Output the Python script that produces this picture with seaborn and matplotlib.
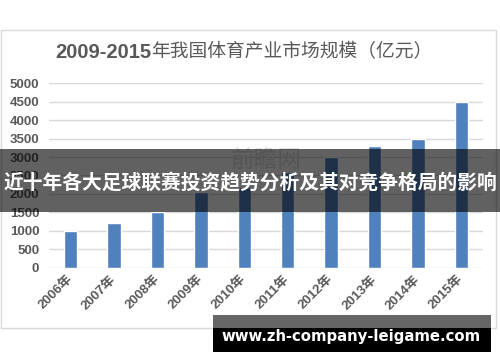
import matplotlib
matplotlib.use("Agg")
import matplotlib.pyplot as plt
import seaborn as sns
import pandas as pd
from matplotlib.patches import Rectangle

years = ["2006年", "2007年", "2008年", "2009年", "2010年",
         "2011年", "2012年", "2013年", "2014年", "2015年"]
values = [1000, 1200, 1500, 2050, 2200, 2600, 3000, 3300, 3500, 4500]
yticks = [0, 500, 1000, 1500, 2000, 2500, 3000, 3500, 4000, 4500, 5000]
title_num = "2009-2015"
title_cn = "年我国体育产业市场规模（亿元）"
banner_text = "近十年各大足球联赛投资趋势分析及其对竞争格局的影响"
footer_text = "www.zh-company-leigame.com"

sns.set_theme(style="white")
plt.rcParams['font.family'] = ['Liberation Sans', 'Noto Sans CJK SC', 'DejaVu Sans']

df = pd.DataFrame({"year": years, "value": values})

fig = plt.figure(figsize=(5.0, 3.62), dpi=100)
fig.patch.set_facecolor("white")
ax = fig.add_axes([0.098, 0.2605, 0.868, 0.5094])
sns.barplot(data=df, x="year", y="value", color="#4f81bd", saturation=1,
            width=0.31, ax=ax, zorder=3)
ax.set_ylim(0, 5000)
ax.set_xlim(-0.5, 9.5)
ax.set_yticks(yticks)
ax.set_yticklabels([str(v) for v in yticks], fontsize=9.5, color="#595959",
                   fontweight="bold")
ax.set_xlabel("")
ax.set_ylabel("")
for s in ax.spines.values():
    s.set_visible(False)
ax.grid(axis="y", color="#d9d9d9", linewidth=1, zorder=0)
ax.set_axisbelow(True)
ax.tick_params(axis="y", length=0, pad=7)
ax.tick_params(axis="x", length=0, pad=7)
for lab in ax.get_xticklabels():
    lab.set_rotation(45)
    lab.set_ha("right")
    lab.set_va("center")
    lab.set_rotation_mode("anchor")
    lab.set_fontsize(9.5)
    lab.set_fontweight("bold")
    lab.set_color("#595959")
    lab.set_family(['Liberation Sans', 'Noto Sans CJK SC'])

# chart frame
fig.add_artist(Rectangle((0.002, 0.0939), 0.99, 0.823, transform=fig.transFigure,
                         fill=False, edgecolor="#d9d9d9", linewidth=1, zorder=1))

# title
t1 = fig.text(0.11, 0.856, title_num, fontsize=14.5, fontweight="bold",
              color="#595959", family=["Liberation Sans"], va="center", ha="left")
fig.texts.append(matplotlib.text.Annotation(
    title_cn, xy=(1.0, 0.5), xycoords=t1, xytext=(0, 0), textcoords="offset points",
    fontsize=13.5, color="#595959", family=["Noto Sans CJK SC"], va="center", ha="left"))
fig.texts[-1].set_figure(fig)

# watermark
fig.text(0.532, 0.558, "前瞻网", fontsize=17, color="#dddddd",
         family=["Noto Sans CJK SC"], ha="center", va="center", zorder=2)

# banner
fig.add_artist(Rectangle((0, 0.4152), 1, 0.1724, transform=fig.transFigure,
                         facecolor="black", alpha=0.62, edgecolor="none", zorder=10))
fig.text(0.5, 0.4945, banner_text, fontsize=14.2, fontweight="bold", color="white",
         family=["Noto Sans CJK SC"], ha="center", va="center", zorder=11)

# footer
fig.add_artist(Rectangle((0.426, 0.0939), 0.556, 0.0359, transform=fig.transFigure,
                         facecolor="#666666", edgecolor="none", zorder=10))
fig.add_artist(Rectangle((0.426, 0.0276), 0.556, 0.0663, transform=fig.transFigure,
                         facecolor="black", edgecolor="none", zorder=10))
fig.text(0.702, 0.07, footer_text, fontsize=10.7, fontweight="bold", color="white",
         family=["DejaVu Sans"], ha="center", va="center", zorder=11)

fig.savefig("out.png", dpi=100)
